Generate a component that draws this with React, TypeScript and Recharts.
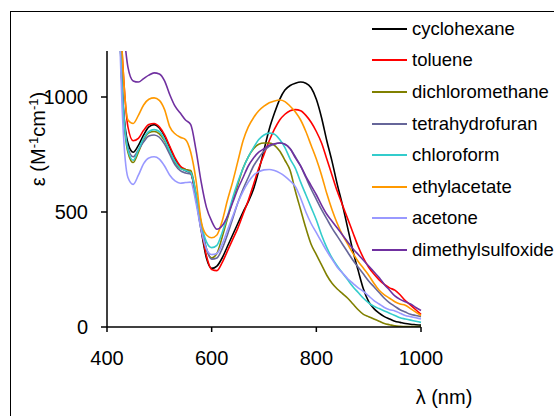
import { LineChart, Line, XAxis, YAxis } from 'recharts'

// wavelength grid (nm)
const WAVELENGTH = [
  420, 430, 440, 450, 460, 470, 480, 490, 500, 510,
  520, 530, 540, 550, 560, 570, 580, 590, 600, 610,
  620, 630, 640, 650, 660, 670, 680, 690, 700, 710,
  720, 730, 740, 750, 760, 770, 780, 790, 800, 810,
  820, 830, 840, 850, 860, 870, 880, 890, 900, 910,
  920, 930, 940, 950, 960, 970, 980, 990, 1000,
]

// molar absorptivity, M^-1 cm^-1
const CYCLOHEXANE = [
  1600, 1000, 800, 760, 790, 835, 870, 880, 865, 830,
  780, 730, 695, 680, 670, 560, 420, 300, 255, 265,
  300, 350, 400, 450, 500, 545, 600, 680, 770, 860,
  930, 990, 1030, 1050, 1060, 1065, 1060, 1040, 990, 910,
  810, 720, 620, 530, 430, 330, 245, 165, 110, 80,
  60, 45, 35, 25, 20, 15, 12, 10, 8,
]
const TOLUENE = [
  1650, 1150, 870, 810, 820, 855, 880, 885, 870, 835,
  785, 735, 700, 685, 670, 570, 430, 310, 250, 245,
  280, 330, 380, 430, 490, 550, 620, 690, 750, 810,
  860, 900, 925, 940, 945, 940, 920, 890, 850, 800,
  730, 660, 590, 530, 470, 410, 350, 300, 260, 230,
  205, 185, 170, 160, 140, 115, 95, 75, 55,
]
const DICHLOROMETHANE = [
  1600, 980, 760, 715, 760, 815, 845, 850, 840, 810,
  760, 715, 690, 685, 680, 580, 450, 340, 300, 320,
  390, 470, 550, 620, 690, 740, 775, 795, 800, 800,
  790, 765, 725, 680, 590, 510, 430, 360, 315, 270,
  225, 190, 165, 145, 125, 100, 75, 55, 45, 35,
  25, 15, 10, 5, 3, 2, 2, 2, 2,
]
const TETRAHYDROFURAN = [
  1600, 1000, 780, 740, 770, 805, 830, 835, 825, 795,
  750, 705, 680, 670, 665, 570, 440, 340, 295, 300,
  340, 400, 470, 540, 600, 650, 700, 735, 765, 785,
  795, 800, 795, 775, 740, 700, 650, 600, 555, 510,
  470, 430, 395, 360, 325, 290, 260, 230, 200, 175,
  150, 125, 105, 90, 75, 65, 55, 50, 45,
]
const CHLOROFORM = [
  1600, 990, 770, 725, 770, 820, 850, 858, 850, 815,
  765, 720, 690, 680, 672, 580, 450, 370, 345, 355,
  410, 480, 560, 630, 690, 740, 780, 815, 835, 843,
  838, 815, 780, 730, 690, 630, 575, 520, 465, 400,
  345, 300, 265, 235, 205, 175, 150, 125, 105, 90,
  80, 70, 60, 50, 40, 35, 30, 25, 20,
]
const ETHYLACETATE = [
  1700, 1150, 900, 885, 920, 965, 990, 996, 985, 945,
  870, 840, 825, 815, 760, 640, 460, 400, 388, 400,
  460, 550, 630, 720, 810, 870, 910, 940, 960, 975,
  983, 987, 980, 960, 935, 900, 850, 790, 730, 660,
  580, 510, 450, 400, 360, 320, 285, 255, 225, 190,
  160, 140, 125, 110, 100, 95, 80, 65, 50,
]
const ACETONE = [
  1600, 900, 650, 620, 660, 710, 735, 740, 730, 700,
  660, 635, 625, 628, 630, 540, 420, 340, 315, 320,
  360, 420, 480, 540, 590, 630, 660, 675, 683, 685,
  680, 670, 655, 635, 610, 560, 500, 450, 410, 370,
  330, 295, 260, 235, 210, 190, 170, 155, 135, 115,
  100, 85, 75, 70, 60, 50, 45, 40, 35,
]
const DIMETHYLSULFOXIDE = [
  1700, 1350, 1130, 1070, 1065, 1080, 1095, 1105, 1100, 1070,
  1010, 960, 930, 900, 880, 770, 630, 520, 460, 425,
  440, 480, 540, 600, 650, 700, 735, 760, 775, 790,
  797, 800, 795, 775, 735, 700, 655, 615, 575, 530,
  490, 460, 430, 400, 370, 340, 315, 290, 265, 240,
  215, 185, 160, 135, 120, 110, 100, 85, 72,
]

const X_TICKS = [400, 600, 800, 1000]
const Y_TICKS = [0, 500, 1000]

const SERIES = [
  { key: 'cyclohexane', color: '#000000', values: CYCLOHEXANE },
  { key: 'toluene', color: '#ff0000', values: TOLUENE },
  { key: 'dichloromethane', color: '#808000', values: DICHLOROMETHANE },
  { key: 'tetrahydrofuran', color: '#666699', values: TETRAHYDROFURAN },
  { key: 'chloroform', color: '#33cccc', values: CHLOROFORM },
  { key: 'ethylacetate', color: '#ff9900', values: ETHYLACETATE },
  { key: 'acetone', color: '#9999ff', values: ACETONE },
  { key: 'dimethylsulfoxide', color: '#7030a0', values: DIMETHYLSULFOXIDE },
]

const data = WAVELENGTH.map((nm, i) => {
  const row: Record<string, number> = { nm }
  SERIES.forEach((s) => {
    row[s.key] = s.values[i]
  })
  return row
})

const FONT = '"Liberation Sans", Arial, Helvetica, sans-serif'

function YTitle() {
  return (
    <text
      x={45}
      y={139}
      transform="rotate(-90, 45, 139)"
      textAnchor="middle"
      fontSize={20}
      fill="#000"
      fontFamily={FONT}
    >
      ε (M<tspan dy={-7} fontSize={13}>-1</tspan>
      <tspan dy={7}>cm</tspan>
      <tspan dy={-7} fontSize={13}>-1</tspan>
      <tspan dy={7}>)</tspan>
    </text>
  )
}

function XTitle() {
  return (
    <text x={444} y={404} textAnchor="middle" fontSize={20} fill="#000" fontFamily={FONT}>
      λ (nm)
    </text>
  )
}

export default function App() {
  return (
    <div
      style={{
        position: 'absolute',
        left: 0,
        top: 0,
        width: 554,
        height: 416,
        overflow: 'hidden',
        background: '#fff',
        fontFamily: FONT,
      }}
    >
      <div
        style={{
          position: 'absolute',
          left: 10,
          top: 11,
          width: 700,
          height: 600,
          border: '1.5px solid #000',
        }}
      />
      <div style={{ position: 'absolute', left: 0, top: 0 }}>
        <LineChart
          width={554}
          height={416}
          data={data}
          margin={{ top: 51, right: 133, bottom: 59, left: 47 }}
        >
          <XAxis
            dataKey="nm"
            type="number"
            domain={[400, 1000]}
            ticks={X_TICKS}
            height={30}
            tickSize={5}
            tickMargin={19}
            tick={{ fill: '#000', fontSize: 20, fontFamily: FONT }}
            axisLine={{ stroke: '#000', strokeWidth: 1.5 }}
            tickLine={{ stroke: '#000', strokeWidth: 1.5 }}
            label={<XTitle />}
          />
          <YAxis
            type="number"
            domain={[0, 1200]}
            ticks={Y_TICKS}
            allowDataOverflow
            width={60}
            tickSize={6}
            tickMargin={13}
            tick={{ fill: '#000', fontSize: 20, fontFamily: FONT }}
            axisLine={{ stroke: '#000', strokeWidth: 1.5 }}
            tickLine={{ stroke: '#000', strokeWidth: 1.5 }}
            label={<YTitle />}
          />
          {SERIES.map((s) => (
            <Line
              key={s.key}
              dataKey={s.key}
              type="monotone"
              stroke={s.color}
              strokeWidth={1.6}
              dot={false}
              isAnimationActive={false}
            />
          ))}
        </LineChart>
      </div>
      <div style={{ position: 'absolute', left: 372, top: 13 }}>
        {SERIES.map((s) => (
          <div
            key={s.key}
            style={{ display: 'flex', alignItems: 'center', height: 31.6 }}
          >
            <svg width={35} height={4} style={{ display: 'block' }}>
              <line x1={0} y1={2} x2={35} y2={2} stroke={s.color} strokeWidth={2} />
            </svg>
            <span style={{ marginLeft: 5, fontSize: 18.5, color: '#000', whiteSpace: 'nowrap' }}>
              {s.key}
            </span>
          </div>
        ))}
      </div>
    </div>
  )
}
